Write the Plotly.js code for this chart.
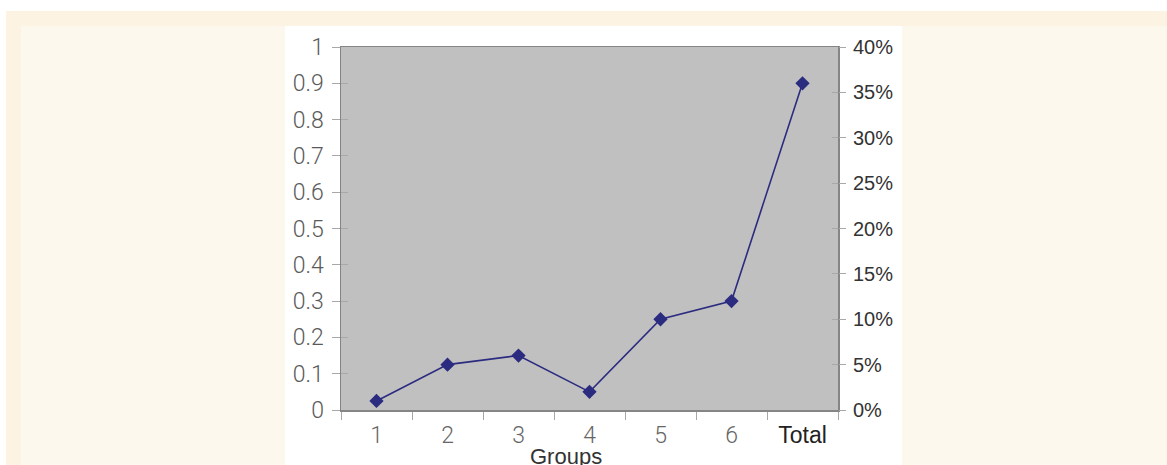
<!DOCTYPE html>
<html><head><meta charset="utf-8">
<script src="https://cdn.plot.ly/plotly-3.0.1.min.js"></script>
<style>
html,body{margin:0;padding:0;background:#fff;width:1167px;height:465px;overflow:hidden;}
#outer{position:absolute;left:6px;top:11px;right:0;bottom:0;background:#FCF3E3;}
#inner{position:absolute;left:21px;top:26px;right:0;bottom:0;background:#FCF8EE;}
#chart{position:absolute;left:285px;top:26px;width:617px;height:439px;background:#fff;}
</style></head>
<body>
<div id="outer"></div><div id="inner"></div><div id="chart"></div>
<script>
const categories = ['1','2','3','4','5','6','Total'];
const values = [0.025, 0.125, 0.15, 0.05, 0.25, 0.30, 0.90];
const categoryLabels = ['1','2','3','4','5','6','<span style="fill:#222;font-family:Liberation Sans, Arial, sans-serif;font-weight:400">Total</span>'];
const leftTickVals = [0,0.1,0.2,0.3,0.4,0.5,0.6,0.7,0.8,0.9,1];
const leftTickText = ['0','0.1','0.2','0.3','0.4','0.5','0.6','0.7','0.8','0.9','1'];
const rightTickVals = [0,0.05,0.1,0.15,0.2,0.25,0.3,0.35,0.4];
const rightTickText = ['0%','5%','10%','15%','20%','25%','30%','35%','40%'];
const xTitle = 'Groups';

const lineColor = '#2B2B80';
const axisColor = '#858585';
const tickColor = '#A8A8A8';

const trace = {
  x: categories, y: values, type: 'scatter', mode: 'lines+markers',
  line: {color: lineColor, width: 1.6},
  marker: {symbol: 'diamond', size: 11, color: lineColor},
  hoverinfo: 'skip', showlegend: false
};

const layout = {
  width: 617, height: 439,
  margin: {l: 56, r: 64, t: 21, b: 55},
  paper_bgcolor: '#ffffff', plot_bgcolor: '#C0C0C0',
  showlegend: false,
  xaxis: {
    type: 'category', range: [-0.5, 6.5],
    tickvals: categories, ticktext: categoryLabels, tickson: 'boundaries',
    ticks: 'outside', ticklen: 8, tickcolor: tickColor, tickwidth: 1,
    showline: true, linecolor: axisColor, linewidth: 1.5, mirror: true,
    showgrid: false, zeroline: false, ticklabelstandoff: 4,
    tickfont: {family: 'Roboto, sans-serif', size: 23, color: '#666', weight: 300},
    automargin: false, fixedrange: true
  },
  yaxis: {
    range: [0, 1], tickvals: leftTickVals, ticktext: leftTickText,
    ticks: 'outside', ticklen: 8, tickcolor: tickColor, tickwidth: 1,
    showline: true, linecolor: axisColor, linewidth: 1.5, mirror: true,
    showgrid: false, zeroline: false, ticklabelstandoff: 3,
    tickfont: {family: 'Roboto, sans-serif', size: 23, color: '#5a5a5a', weight: 300},
    automargin: false, fixedrange: true
  },
  yaxis2: {
    overlaying: 'y', side: 'right', range: [0, 0.4],
    tickvals: rightTickVals, ticktext: rightTickText,
    ticks: 'outside', ticklen: 7, tickcolor: tickColor, tickwidth: 1,
    showline: false, showgrid: false, zeroline: false, ticklabelstandoff: 3,
    tickfont: {family: 'Liberation Sans, Arial, sans-serif', size: 20, color: '#333'},
    automargin: false, fixedrange: true
  },
  yaxis3: {
    overlaying: 'y', side: 'left', range: [0, 1], tickvals: leftTickVals,
    showticklabels: false, ticks: 'inside', ticklen: 7, tickcolor: tickColor, tickwidth: 1,
    showline: false, showgrid: false, zeroline: false, fixedrange: true
  },
  yaxis4: {
    overlaying: 'y', side: 'right', range: [0, 0.4], tickvals: rightTickVals,
    showticklabels: false, ticks: 'inside', ticklen: 6, tickcolor: tickColor, tickwidth: 1,
    showline: false, showgrid: false, zeroline: false, fixedrange: true
  },
  annotations: [{
    text: xTitle, xref: 'paper', yref: 'paper', x: 0.4525, y: -0.127,
    xanchor: 'center', yanchor: 'middle', showarrow: false,
    font: {family: 'Liberation Sans, Arial, sans-serif', size: 22, color: '#333'}
  }]
};

const ghost2 = {x: categories, y: values.map(v => v*0.4), yaxis: 'y2', type: 'scatter', mode: 'none', hoverinfo: 'skip', showlegend: false};
const ghost3 = {x: categories, y: values, yaxis: 'y3', type: 'scatter', mode: 'none', hoverinfo: 'skip', showlegend: false};
const ghost4 = {x: categories, y: values.map(v => v*0.4), yaxis: 'y4', type: 'scatter', mode: 'none', hoverinfo: 'skip', showlegend: false};

Plotly.newPlot('chart', [ghost2, ghost3, ghost4, trace], layout, {staticPlot: true, displayModeBar: false});
</script>
</body></html>
